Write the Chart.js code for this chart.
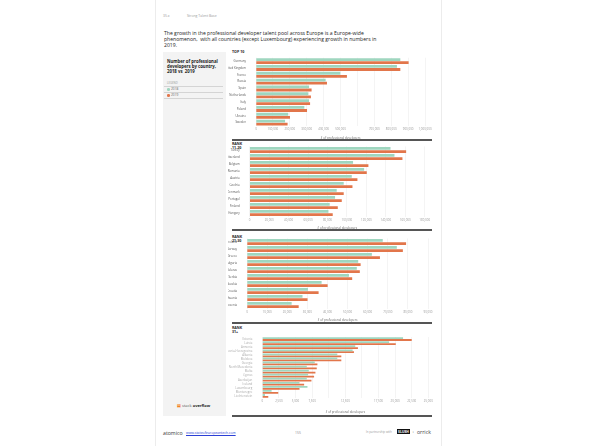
<!DOCTYPE html>
<html>
<head>
<meta charset="utf-8">
<script src="https://cdn.jsdelivr.net/npm/chart.js@4.4.1/dist/chart.umd.min.js"></script>
<style>
  body { margin: 0; width: 595px; height: 446px; background: #fff; position: relative; overflow: hidden; font-family: 'Open Sans', 'Noto Sans', sans-serif; }
  .abs { position: absolute; }
  .page { left: 155px; top: 0; width: 285px; height: 446px; border-left: 1px solid #ececec; border-right: 1px solid #ececec; }
  .small { font-size: 3.4px; color: #9a9a9a; }
  .title { left: 164px; top: 30px; white-space: nowrap; font-size: 5.1px; line-height: 6px; color: #222; }
  .panel { left: 163px; top: 52px; width: 63px; height: 364px; background: #f3f3f3; }
  .ptitle { left: 167px; top: 59px; font-size: 4.3px; line-height: 5px; font-weight: bold; color: #222; }
  .rule { height: 0.6px; background: #d4d4d4; }
  .leg { font-size: 3.2px; color: #666; }
  .dot { width: 2.6px; height: 2.6px; border-radius: 50%; }
  .sep { left: 232px; width: 200px; height: 1.6px; background: #555; }
  .rank { font-size: 3.6px; font-weight: bold; line-height: 3.8px; color: #222; }
  canvas { position: absolute; }
</style>
</head>
<body>
<div class="abs page"></div>

<div class="abs small" style="left:163px;top:13px;">35.x</div>
<div class="abs small" style="left:187px;top:13px;">Strong Talent Base</div>

<div class="abs title">The growth in the professional developer talent pool across Europe is a Europe-wide<br>phenomenon,&nbsp; with all countries (except Luxembourg) experiencing growth in numbers in<br>2019.</div>

<div class="abs panel"></div>
<div class="abs ptitle">Number of professional<br>developers by country,<br>2018 vs&nbsp; 2019</div>
<div class="abs leg" style="left:167px;top:81px;color:#999;font-size:2.8px;">LEGEND</div>
<div class="abs rule" style="left:164px;top:86px;width:59px;"></div>
<div class="abs dot" style="left:167px;top:88px;background:#9fd6bf;"></div>
<div class="abs leg" style="left:171px;top:87px;">2018</div>
<div class="abs rule" style="left:164px;top:92px;width:59px;"></div>
<div class="abs dot" style="left:167px;top:94px;background:#e2764b;"></div>
<div class="abs leg" style="left:171px;top:93px;">2019</div>
<div class="abs rule" style="left:164px;top:98px;width:59px;"></div>

<div class="abs" style="left:177px;top:403px;font-size:4px;color:#555;"><span style="color:#f48024;font-weight:bold;">&#9636;</span> stack <b style="color:#222;">overflow</b></div>

<div class="abs rank" style="left:232px;top:50px;">TOP 10</div>
<div class="abs sep" style="top:139px;"></div>
<div class="abs rank" style="left:232px;top:142px;">RANK<br>11-20</div>
<div class="abs sep" style="top:229px;"></div>
<div class="abs rank" style="left:232px;top:235px;">RANK<br>21-30</div>
<div class="abs sep" style="top:322px;"></div>
<div class="abs rank" style="left:232px;top:326px;">RANK<br>31+</div>
<div class="abs sep" style="top:415px;"></div>

<canvas id="c1" style="left:228px;top:54px;" width="208" height="86"></canvas>
<canvas id="c2" style="left:228px;top:142px;" width="208" height="88"></canvas>
<canvas id="c3" style="left:228px;top:232px;" width="208" height="90"></canvas>
<canvas id="c4" style="left:228px;top:324px;" width="208" height="90"></canvas>

<div class="abs" style="left:163px;top:429px;font-size:5.2px;color:#333;">atomico<sup style="font-size:2px;">&deg;</sup></div>
<div class="abs" style="left:186px;top:430px;font-size:3.4px;color:#2b3fd6;text-decoration:underline;">www.stateofeuropeantech.com</div>
<div class="abs" style="left:295px;top:430px;font-size:3.4px;color:#888;">155</div>
<div class="abs" style="left:366px;top:430px;font-size:2.9px;color:#999;">In partnership with</div>
<div class="abs" style="left:397px;top:429px;width:13px;height:5px;background:#111;color:#fff;font-size:3.4px;font-weight:bold;text-align:center;line-height:5px;">SLUSH</div>
<div class="abs" style="left:412px;top:429px;font-size:4px;color:#555;">+</div>
<div class="abs" style="left:417px;top:428px;font-size:5.2px;color:#444;">orrick</div>

<script>
const top10Labels = ['Germany', 'United Kingdom', 'France', 'Russia', 'Spain', 'Netherlands', 'Italy', 'Poland', 'Ukraine', 'Sweden'];
const top10_2018 = [854000, 834000, 499000, 412000, 314000, 310000, 314000, 286000, 191000, 172000];
const top10_2019 = [903000, 854000, 538000, 420000, 329000, 325000, 320000, 302000, 201000, 187000];
const top10Ticks = ['0', '100,000', '200,000', '300,000', '400,000', '500,000', '', '700,000', '800,000', '900,000', '1,000,000'];

const rank11Labels = ['Turkey', 'Switzerland', 'Belgium', 'Romania', 'Austria', 'Czechia', 'Denmark', 'Portugal', 'Finland', 'Hungary'];
const rank11_2018 = [144800, 148900, 106300, 117700, 105000, 96700, 89500, 87800, 82300, 81000];
const rank11_2019 = [160900, 157100, 122100, 120400, 110800, 105700, 96700, 94700, 90600, 85400];
const rank11Ticks = ['0', '20,000', '40,000', '60,000', '80,000', '100,000', '120,000', '140,000', '160,000', '180,000'];

const rank21Labels = ['Ireland', 'Norway', 'Greece', 'Bulgaria', 'Belarus', 'Serbia', 'Slovakia', 'Croatia', 'Lithuania', 'Slovenia'];
const rank21_2018 = [67500, 74500, 62100, 55300, 54600, 50700, 37100, 30300, 27600, 22200];
const rank21_2019 = [79100, 77500, 66100, 56500, 56100, 52300, 40100, 35600, 30100, 25700];
const rank21Ticks = ['0', '10,000', '20,000', '30,000', '40,000', '50,000', '60,000', '70,000', '80,000', '90,000'];

const rank31Labels = ['Estonia', 'Latvia', 'Armenia', 'Bosnia-Herzegovina', 'Albania', 'Moldova', 'Georgia', 'North Macedonia', 'Malta', 'Cyprus', 'Azerbaijan', 'Iceland', 'Luxembourg', 'Montenegro', 'Liechtenstein'];
const rank31_2018 = [21200, 19100, 14000, 13600, 11300, 11300, 7900, 6700, 7000, 6900, 6700, 5600, 6800, 1400, 400];
const rank31_2019 = [22500, 20100, 14400, 13800, 11900, 11900, 8300, 8200, 8000, 7800, 7400, 6300, 5600, 2400, 900];
const rank31Ticks = ['0', '2,500', '5,000', '7,500', '', '12,500', '', '17,500', '20,000', '22,500', '25,000'];

const green = '#9fd6bf';
const orange = '#e2764b';
const font = "'Open Sans', 'Noto Sans', sans-serif";

function makeChart(id, labels, d18, d19, ticks, step, o) {
	return new Chart(document.getElementById(id).getContext('2d'), {
		type: 'bar',
		data: {
			labels: labels,
			datasets: [
				{ label: '2018', data: d18, backgroundColor: green },
				{ label: '2019', data: d19, backgroundColor: orange },
			]
		},
		options: {
			indexAxis: 'y',
			responsive: false,
			animation: false,
			categoryPercentage: o.cat,
			barPercentage: o.bar,
			layout: { padding: { top: o.top, right: o.right, bottom: 0, left: 0 } },
			plugins: { legend: { display: false }, tooltip: { enabled: false } },
			scales: {
				x: {
					min: 0,
					max: step * (ticks.length - 1),
					ticks: {
						stepSize: step,
						autoSkip: false,
						maxRotation: 0,
						padding: 1.5,
						color: '#999',
						font: { size: 2.9, family: font },
						callback: function(value, index) {
							return ticks[index];
						}
					},
					grid: { color: '#ececec', lineWidth: 0.6, drawTicks: false },
					border: { display: false },
					title: {
						display: true,
						text: '# of professional developers',
						color: '#666',
						padding: { top: 2, bottom: 0 },
						font: { size: 3, family: font }
					},
					afterFit: function(axis) { axis.height = o.xh; }
				},
				y: {
					ticks: {
						autoSkip: false,
						padding: 2,
						color: o.labelColor,
						font: { size: 2.9, family: font }
					},
					grid: { display: false },
					border: { display: false },
					afterFit: function(axis) { axis.width = o.yw; }
				}
			}
		}
	});
}

makeChart('c1', top10Labels, top10_2018, top10_2019, top10Ticks, 100000,
	{ cat: 0.9, bar: 0.92, top: 2, right: 11, xh: 14, yw: 28, labelColor: '#555' });
makeChart('c2', rank11Labels, rank11_2018, rank11_2019, rank11Ticks, 20000,
	{ cat: 0.9, bar: 0.92, top: 4.5, right: 11.3, xh: 13.5, yw: 21.7, labelColor: '#555' });
makeChart('c3', rank21Labels, rank21_2018, rank21_2019, rank21Ticks, 10000,
	{ cat: 0.9, bar: 0.92, top: 6.5, right: 8, xh: 13.5, yw: 19, labelColor: '#555' });
makeChart('c4', rank31Labels, rank31_2018, rank31_2019, rank31Ticks, 2500,
	{ cat: 0.95, bar: 0.92, top: 13, right: 7.7, xh: 16, yw: 34.3, labelColor: '#aaa' });
</script>
</body>
</html>
